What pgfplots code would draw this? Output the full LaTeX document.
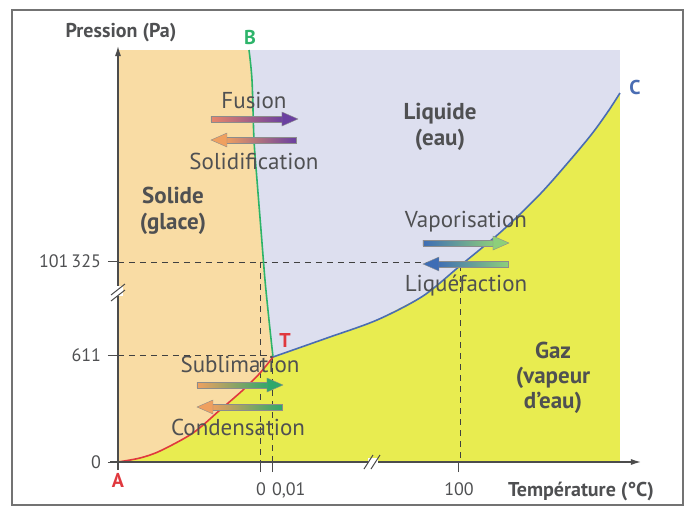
\documentclass[border=0pt]{standalone}
\usepackage{pgfplots}
\pgfplotsset{compat=1.18}
\usetikzlibrary{arrows.meta}
\usepackage{fontspec}
\setmainfont{PT Sans}
\definecolor{beige}{HTML}{F9DCA4}
\definecolor{lav}{HTML}{DDDFEF}
\definecolor{yel}{HTML}{E8EC50}
\definecolor{gline}{HTML}{2DB46A}
\definecolor{bline}{HTML}{4A6DB3}
\definecolor{rline}{HTML}{E0383E}
\definecolor{txt}{HTML}{4F5052}
\definecolor{salmon}{HTML}{E8866A}
\definecolor{purp}{HTML}{6A3FA0}
\definecolor{orng}{HTML}{EFA060}
\definecolor{blu}{HTML}{3E6DB5}
\definecolor{lgrn}{HTML}{8DCF7A}
\definecolor{dgrn}{HTML}{2FA86A}
% right-pointing arrow: x1 x2 y leftcolor rightcolor
\newcommand{\rarrow}[5]{%
  \shade[left color=#4, right color=#5, draw=black!45, line width=0.2pt]
    ([yshift=-1.4pt]axis cs:#1,#3) rectangle ([xshift=-7pt,yshift=1.4pt]axis cs:#2,#3);
  \fill[#5, draw=black!45, line width=0.2pt]
    ([xshift=-8pt,yshift=3.5pt]axis cs:#2,#3) -- (axis cs:#2,#3) -- ([xshift=-8pt,yshift=-3.5pt]axis cs:#2,#3) -- cycle;}
% left-pointing arrow: x1 (tip) x2 y leftcolor rightcolor
\newcommand{\larrow}[5]{%
  \shade[left color=#4, right color=#5, draw=black!45, line width=0.2pt]
    ([xshift=7pt,yshift=-1.4pt]axis cs:#1,#3) rectangle ([yshift=1.4pt]axis cs:#2,#3);
  \fill[#4, draw=black!45, line width=0.2pt]
    ([xshift=8pt,yshift=3.5pt]axis cs:#1,#3) -- (axis cs:#1,#3) -- ([xshift=8pt,yshift=-3.5pt]axis cs:#1,#3) -- cycle;}
\begin{document}
\begin{tikzpicture}
\begin{axis}[
  scale only axis, width=251pt, height=206pt,
  xmin=118, xmax=620, ymin=-462, ymax=-50,
  clip=false,
  axis line style={draw=none},
  xtick={261,459}, xticklabels={0,100},
  extra x ticks={273}, extra x tick labels={0{,}01},
  extra x tick style={xticklabel style={anchor=north west, xshift=-4pt}},
  ytick={-462,-355,-261}, yticklabels={0,611,101\,325},
  xtick pos=left, ytick pos=left,
  tick align=outside, major tick length=5pt,
  tick style={draw=black!70, line width=0.5pt},
  /pgf/number format/assume math mode=true,
  ticklabel style={font=\fontsize{9}{10}\selectfont, text=txt},
  xticklabel style={yshift=-2pt},
]
% regions
\addplot[fill=beige, draw=none] coordinates {(118,-50)(620,-50)(620,-462)(118,-462)} -- cycle;
\addplot[fill=lav, draw=none] coordinates {(249,-50)(252,-80)(254,-140)(257,-180)(261,-230)(265,-280)(269,-320)(273,-357)(327,-338)(377,-320)(423,-296)(461,-265)(503,-230)(543,-191)(587,-140)(607,-113)(620,-93)(620,-50)} -- cycle;
\addplot[fill=yel, draw=none] coordinates {(118,-462)(140,-458)(160,-451)(193,-433)(220,-410)(243,-390)(260,-373)(273,-357)(327,-338)(377,-320)(423,-296)(461,-265)(503,-230)(543,-191)(587,-140)(607,-113)(620,-93)(620,-462)} -- cycle;
% dashed reference lines
\addplot[black!75, dashed, dash pattern=on 3pt off 2.5pt, line width=0.5pt] coordinates {(118,-262)(461,-262)};
\addplot[black!75, dashed, dash pattern=on 3pt off 2.5pt, line width=0.5pt] coordinates {(461,-265)(461,-462)};
\addplot[black!75, dashed, dash pattern=on 3pt off 2.5pt, line width=0.5pt] coordinates {(118,-355)(273,-355)};
\addplot[black!75, dashed, dash pattern=on 3pt off 2.5pt, line width=0.5pt] coordinates {(261,-262)(261,-462)};
\addplot[black!75, dashed, dash pattern=on 3pt off 2.5pt, line width=0.5pt] coordinates {(273,-357)(273,-462)};
% phase boundaries
\addplot[gline, line width=0.8pt, smooth] coordinates {(249,-50)(252,-80)(254,-140)(257,-180)(261,-230)(265,-280)(269,-320)(273,-357)};
\addplot[bline, line width=0.8pt, smooth] coordinates {(273,-357)(327,-338)(377,-320)(423,-296)(461,-265)(503,-230)(543,-191)(587,-140)(607,-113)(620,-93)};
\addplot[rline, line width=0.8pt, smooth] coordinates {(118,-462)(140,-458)(160,-451)(193,-433)(220,-410)(243,-390)(260,-373)(273,-357)};
% axes
\draw[black!70, line width=0.6pt, -{Latex[length=5pt,width=3pt]}] (axis cs:110,-462) -- (axis cs:641,-462);
\draw[black!70, line width=0.6pt, -{Latex[length=5pt,width=3pt]}] (axis cs:118,-470) -- (axis cs:118,-46);
% axis breaks
\fill[white] (axis cs:113,-286) rectangle (axis cs:123,-296);
\draw[black!70, line width=0.5pt] (axis cs:111,-295) -- (axis cs:125,-284);
\draw[black!70, line width=0.5pt] (axis cs:111,-301) -- (axis cs:125,-290);
\fill[white] (axis cs:368,-458) rectangle (axis cs:378,-466);
\draw[black!70, line width=0.5pt] (axis cs:364,-469) -- (axis cs:373,-455);
\draw[black!70, line width=0.5pt] (axis cs:371,-469) -- (axis cs:380,-455);
% transition arrows
\rarrow{211}{298}{-119}{salmon}{purp}
\larrow{211}{296}{-140}{orng}{purp}
\rarrow{423}{509}{-243}{blu}{lgrn}
\larrow{423}{508}{-264}{blu}{lgrn}
\rarrow{197}{283}{-385}{orng}{dgrn}
\larrow{197}{282}{-407}{orng}{dgrn}
% labels
\node[font=\fontsize{11.5}{13}\selectfont, text=txt] at (axis cs:254,-100) {Fusion};
\node[font=\fontsize{11.5}{13}\selectfont, text=txt] at (axis cs:254,-161) {Solidification};
\node[font=\fontsize{11.5}{13}\selectfont, text=txt] at (axis cs:466,-222) {Vaporisation};
\node[font=\fontsize{11.5}{13}\selectfont, text=txt] at (axis cs:466,-286) {Liquéfaction};
\node[font=\fontsize{11.5}{13}\selectfont, text=txt] at (axis cs:240,-364) {Sublimation};
\node[font=\fontsize{11.5}{13}\selectfont, text=txt] at (axis cs:238,-427) {Condensation};
\node[font=\bfseries\fontsize{11.5}{13}\selectfont, text=txt, align=center] at (axis cs:440,-127) {Liquide\\(eau)};
\node[font=\bfseries\fontsize{11.5}{13}\selectfont, text=txt, align=center] at (axis cs:173,-211) {Solide\\(glace)};
\node[font=\bfseries\fontsize{11.5}{12.5}\selectfont, text=txt, align=center] at (axis cs:553,-378) {Gaz\\(vapeur\\d’eau)};
\node[font=\bfseries\fontsize{10}{12}\selectfont, text=gline] at (axis cs:250,-37) {B};
\node[font=\bfseries\fontsize{10}{12}\selectfont, text=bline] at (axis cs:635,-87) {C};
\node[font=\bfseries\fontsize{10}{12}\selectfont, text=rline] at (axis cs:285,-340) {T};
\node[font=\bfseries\fontsize{10}{12}\selectfont, text=rline] at (axis cs:118,-480) {A};
\node[font=\bfseries\fontsize{10}{12}\selectfont, text=txt] at (axis cs:121,-33) {Pression (Pa)};
\node[font=\bfseries\fontsize{10}{12}\selectfont, text=txt] at (axis cs:581,-491) {Température (°C)};
% frame and page
\draw[black!55, line width=0.6pt] (axis cs:12,-10) rectangle (axis cs:683,-505);
\path (axis cs:0,0) rectangle (axis cs:687,-511);
\end{axis}
\end{tikzpicture}
\end{document}
